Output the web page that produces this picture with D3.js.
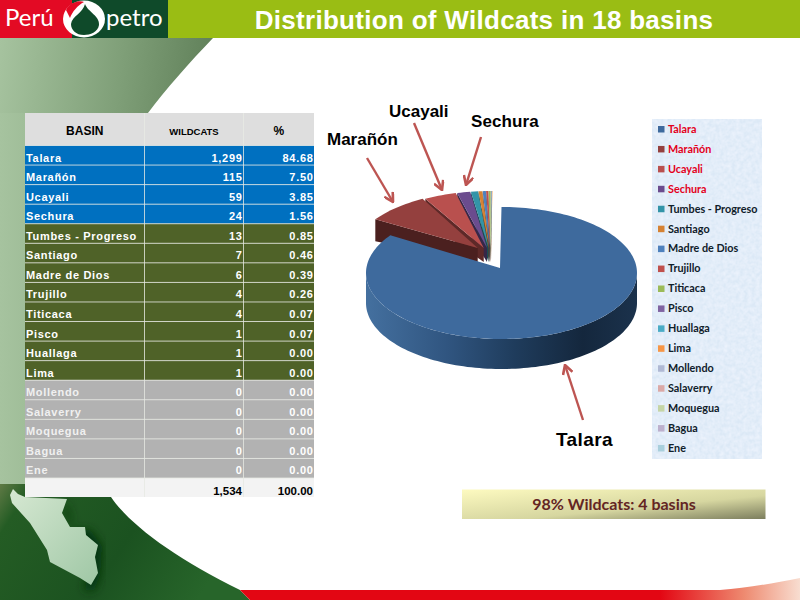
<!DOCTYPE html>
<html>
<head>
<meta charset="utf-8">
<script src="https://cdn.jsdelivr.net/npm/d3@7"></script>
<style>
  html, body { margin: 0; padding: 0; background: #fff; }
  svg { display: block; }
  text { font-family: "Liberation Sans", Arial, sans-serif; }
  .cell { font-size: 11px; font-weight: bold; letter-spacing: 0.68px; }
  .legend text { font-family: Lato, sans-serif; font-size: 10.8px; font-weight: 700; }
  .callout-label { font-weight: bold; fill: #000; }
</style>
</head>
<body>
<svg id="chart" width="800" height="600"></svg>
<script>
// Data
const basins = ["Talara", "Marañón", "Ucayali", "Sechura", "Tumbes - Progreso", "Santiago", "Madre de Dios",
    "Trujillo", "Titicaca", "Pisco", "Huallaga", "Lima", "Mollendo", "Salaverry", "Moquegua", "Bagua", "Ene"];
const wildcats = [1299, 115, 59, 24, 13, 7, 6, 4, 4, 1, 1, 1, 0, 0, 0, 0, 0];
const percents = [84.68, 7.50, 3.85, 1.56, 0.85, 0.46, 0.39, 0.26, 0.07, 0.07, 0, 0, 0, 0, 0, 0, 0];
const totals = [1534, 100];
const headers = ["BASIN", "WILDCATS", "%"];
const sliceColors = ["#3e6a9d", "#94403e", "#b9504e", "#6b4c8e", "#3394a8", "#d68233", "#4f81bd", "#c0504d",
    "#9bbb59", "#8064a2", "#4bacc6", "#f79646", "#b0b9d4", "#dba9a7", "#c5d5a6", "#bdb0cd", "#a9cfdc"];
const legendRed = ["Talara", "Marañón", "Ucayali", "Sechura"];
const title = "Distribution of Wildcats in 18 basins";
const callout = "98% Wildcats: 4 basins";
const callouts = [
    { label: "Marañón", x: 327, y: 145, size: 17, spacing: 0, from: [367, 158], to: [393, 202] },
    { label: "Ucayali", x: 389, y: 117, size: 17, spacing: 0, from: [414, 123], to: [442, 190] },
    { label: "Sechura", x: 471, y: 127, size: 17, spacing: 0.1, from: [481, 137], to: [466, 185] },
    { label: "Talara", x: 556, y: 446, size: 19, spacing: 0.4, from: [583, 420], to: [565, 365] }
];

const svg = d3.select("#chart");
const defs = svg.append("defs");

function linearGradient(id, x1, y1, x2, y2, stops) {
    const g = defs.append("linearGradient").attr("id", id)
        .attr("x1", x1).attr("y1", y1).attr("x2", x2).attr("y2", y2);
    stops.forEach(s => g.append("stop").attr("offset", s[0]).attr("stop-color", s[1]));
}
linearGradient("upperBg", 0, 0, 1, 0.25, [[0, "#a6c39f"], [0.55, "#7f9f78"], [1, "#5d7d56"]]);
linearGradient("stripBg", 0, 0, 1, 0, [[0, "#a6c39f"], [1, "#a0be99"]]);
linearGradient("lowerBg", 0, 0, 1, 0.3, [[0, "#5f7a45"], [0.12, "#245c24"], [0.6, "#1b5220"], [1, "#27652a"]]);
linearGradient("mapFill", 0, 0, 1, 1, [[0, "#d6e8d2"], [1, "#9fc7a5"]]);
linearGradient("redBar", 0, 0, 1, 0, [[0, "#e30613"], [0.75, "#e30613"], [0.9, "#ee8a70"], [1, "#f8ddd0"]]);
linearGradient("wallBlue", 0, 0, 1, 0, [[0, "#44709f"], [0.3, "#305580"], [0.55, "#1f3c5c"], [0.8, "#14273d"], [1, "#1b324c"]]);
linearGradient("calloutFill", 0, 0, 1, 1, [[0, "#fdfac0"], [0.6, "#d6d6a0"], [1, "#7c7e5e"]]);

const paper = defs.append("filter").attr("id", "paper")
    .attr("x", 0).attr("y", 0).attr("width", 1).attr("height", 1);
paper.append("feTurbulence").attr("type", "fractalNoise").attr("baseFrequency", 0.25)
    .attr("numOctaves", 3).attr("seed", 4).attr("result", "n");
paper.append("feColorMatrix").attr("in", "n").attr("type", "matrix")
    .attr("values", "0 0 0 0 0.83  0 0 0 0 0.89  0 0 0 0 0.97  1.6 0 0 0 -0.35").attr("result", "m");
paper.append("feComposite").attr("in", "m").attr("in2", "SourceGraphic").attr("operator", "over");
defs.append("filter").attr("id", "soft").append("feGaussianBlur").attr("stdDeviation", 5);

// Slide background
const bg = svg.append("g");
bg.append("path").attr("d", "M0,38 L213,38 C190,62 165,90 148,113 L110,113 L25,113 L25,484 L0,484 Z")
    .attr("fill", "url(#upperBg)");
bg.append("rect").attr("x", 0).attr("y", 113).attr("width", 25).attr("height", 371).attr("fill", "url(#stripBg)");
bg.append("path").attr("d", "M0,484 L25,484 L25,497 L111,497 C130,525 175,558 240,590 L250,600 L0,600 Z")
    .attr("fill", "url(#lowerBg)");
bg.append("path").attr("d", "M66,500 L65,514 L74,530 L90,530 L102,546 L100,575 L94,590 L84,590 L92,560 L75,535 Z")
    .attr("fill", "#06300e").attr("filter", "url(#soft)");
bg.append("path").attr("fill", "url(#mapFill)")
    .attr("d", "M13,489 L18,494 L25,497 L67,499 L62,513 L70,527 L85,527 L86,535 L98,545 L95,557 L98,573 L91,585 L80,578 L50,562 L47,550 L30,523 L12,503 L10,495 Z");
bg.append("path").attr("d", "M240,590 L800,590 L800,578 C770,584 745,588 720,590 L800,590 L800,600 L250,600 Z")
    .attr("fill", "url(#redBar)");

// Header with logo and title
svg.append("rect").attr("width", 800).attr("height", 38).attr("fill", "#9abd14");
svg.append("rect").attr("width", 72).attr("height", 38).attr("fill", "#e30a24");
svg.append("rect").attr("x", 72).attr("width", 96).attr("height", 38).attr("fill", "#0f4a2a");
svg.append("text").attr("x", 5).attr("y", 26).attr("fill", "#fff")
    .style("font-family", "Lato, sans-serif").style("font-size", "24px").text("Perú");
svg.append("text").attr("x", 106).attr("y", 26).attr("fill", "#fff")
    .style("font-family", "Lato, sans-serif").style("font-size", "24px").text("petro");
svg.append("ellipse").attr("cx", 84).attr("cy", 19).attr("rx", 21).attr("ry", 18.5).attr("fill", "#fff");
svg.append("path").attr("d", "M66,10 C70,2 80,0 84,2 C78,5 72,12 70,18 Z").attr("fill", "#e30a24");
svg.append("path").attr("d", "M85,4 C88,12 100,16 99,25 C98,32 90,35 84,35 C76,35 71,30 71,24 C72,16 83,13 85,4 Z")
    .attr("fill", "#0f4a2a");
svg.append("text").attr("x", 484).attr("y", 28.5).attr("text-anchor", "middle").attr("fill", "#fff")
    .style("font-size", "26px").style("font-weight", "bold").style("letter-spacing", "0.3px").text(title);

// Table
const colEdges = [25, 144.5, 243.5, 314];
const rowY = d3.scaleBand().domain(basins).range([145.5, 478]);
const rowColor = i => i < 4 ? "#0070c0" : i < 12 ? "#4f6228" : "#b2b2b2";
const gridColor = "#e6e9e2";
const table = svg.append("g");

headers.forEach((h, i) => {
    table.append("rect").attr("x", colEdges[i]).attr("y", 113)
        .attr("width", colEdges[i + 1] - colEdges[i]).attr("height", 32.5).attr("fill", "#dedede");
    table.append("text").attr("x", (colEdges[i] + colEdges[i + 1]) / 2).attr("y", 135)
        .attr("text-anchor", "middle").attr("fill", "#000")
        .style("font-weight", "bold").style("font-size", i === 1 ? "9.5px" : "12px").text(h);
});
table.selectAll(".row").data(basins).enter().append("rect")
    .attr("class", "row").attr("x", colEdges[0]).attr("y", d => rowY(d))
    .attr("width", colEdges[3] - colEdges[0]).attr("height", rowY.bandwidth())
    .attr("fill", (d, i) => rowColor(i));
table.append("rect").attr("x", colEdges[0]).attr("y", 478).attr("width", colEdges[3] - colEdges[0])
    .attr("height", 19).attr("fill", "#f3f3f3");

const rowText = (d, i) => i < 12 ? "#fff" : "#f0f0f0";
table.selectAll(".basin").data(basins).enter().append("text")
    .attr("class", "basin cell").attr("x", 26).attr("y", d => rowY(d) + 16)
    .attr("fill", rowText).text(d => d);
const fmtCount = d3.format(",");
const fmtPct = d3.format(".2f");
table.selectAll(".count").data(wildcats).enter().append("text")
    .attr("class", "count cell").attr("x", 242.5).attr("y", (d, i) => rowY(basins[i]) + 16)
    .attr("text-anchor", "end").attr("fill", "#fff").text(fmtCount);
table.selectAll(".pct").data(percents).enter().append("text")
    .attr("class", "pct cell").attr("x", 313.5).attr("y", (d, i) => rowY(basins[i]) + 16)
    .attr("text-anchor", "end").attr("fill", "#fff").text(fmtPct);
table.append("text").attr("x", 242).attr("y", 495).attr("text-anchor", "end")
    .style("font-size", "11.5px").style("font-weight", "bold").text(fmtCount(totals[0]));
table.append("text").attr("x", 313).attr("y", 495).attr("text-anchor", "end")
    .style("font-size", "11.5px").style("font-weight", "bold").text(fmtPct(totals[1]));

// Grid lines over the rows
basins.slice(1).concat(["end"]).forEach((d, i) => {
    const y = i === basins.length - 1 ? 478 : rowY(d);
    table.append("line").attr("x1", colEdges[0]).attr("x2", colEdges[3]).attr("y1", y).attr("y2", y)
        .attr("stroke", gridColor).attr("stroke-width", 0.8);
});
table.append("line").attr("x1", colEdges[0]).attr("x2", colEdges[3]).attr("y1", 145.5).attr("y2", 145.5)
    .attr("stroke", gridColor).attr("stroke-width", 0.8);
colEdges.slice(1, 3).forEach(x => {
    table.append("line").attr("x1", x).attr("x2", x).attr("y1", 113).attr("y2", 497)
        .attr("stroke", gridColor).attr("stroke-width", 0.8);
});

// Pie, tilted: angles come from d3.pie, projected on an ellipse
const pieCx = 501.5, pieCy = 273, pieRx = 135.5, pieRy = 66;
const apex = [500, 268];
const depth = 30, explodedDepth = 22;
const slices = d3.pie().sort(null).value((d, i) => wildcats[i]).startAngle(0).endAngle(2 * Math.PI)(basins)
    .filter(d => d.value > 0);
const onRim = a => [pieCx + pieRx * Math.sin(a), pieCy - pieRy * Math.cos(a)];
const line = d3.line();
function rimPoints(a0, a1) {
    const n = Math.max(2, Math.ceil((a1 - a0) / 0.03));
    return d3.range(n + 1).map(k => onRim(a0 + (a1 - a0) * k / n));
}
const pieG = svg.append("g");

// Exploded slices, back to front so Marañón ends up on top
slices.slice(1).reverse().forEach(d => {
    const mid = (d.startAngle + d.endAngle) / 2;
    const shift = [-9 + 9 * Math.sin(mid), -16];
    const rim = rimPoints(d.startAngle, d.endAngle).map(p => [p[0] + shift[0], p[1] + shift[1]]);
    const tip = [apex[0] - 9 + 20 * Math.sin(mid), apex[1] - 20];
    const color = d3.color(sliceColors[d.index]);
    pieG.append("path")
        .attr("d", line([rim[0], tip, [tip[0], tip[1] + 14], [rim[0][0], rim[0][1] + explodedDepth]]) + "Z")
        .attr("fill", color.darker(1.9));
    pieG.append("path").attr("d", line([tip].concat(rim)) + "Z").attr("fill", color);
});

const talara = slices[0];
const frontTop = rimPoints(Math.PI / 2, 3 * Math.PI / 2);
const frontBottom = frontTop.map(p => [p[0], p[1] + depth]).reverse();
pieG.append("path").attr("d", line(frontTop.concat(frontBottom)) + "Z").attr("fill", "url(#wallBlue)");
pieG.append("path").attr("d", line([apex].concat(rimPoints(talara.startAngle, talara.endAngle))) + "Z")
    .attr("fill", sliceColors[0]);

// Callout labels and arrows
defs.append("marker").attr("id", "head").attr("viewBox", "0 0 10 10").attr("refX", 9).attr("refY", 5)
    .attr("markerWidth", 4.6).attr("markerHeight", 4.6).attr("orient", "auto")
    .append("path").attr("d", "M1,0.5 L9,5 L1,9.5").attr("fill", "none").attr("stroke", "#bd5552").attr("stroke-width", 2.4);
callouts.forEach(c => {
    svg.append("line").attr("x1", c.from[0]).attr("y1", c.from[1]).attr("x2", c.to[0]).attr("y2", c.to[1])
        .attr("stroke", "#bd5552").attr("stroke-width", 2.4).attr("marker-end", "url(#head)");
    svg.append("text").attr("class", "callout-label").attr("x", c.x).attr("y", c.y)
        .style("font-size", c.size + "px").style("letter-spacing", c.spacing + "px").text(c.label);
});

// Legend
const legendY = d3.scalePoint().domain(basins).range([129, 448]);
const legend = svg.append("g").attr("class", "legend");
legend.append("rect").attr("x", 652).attr("y", 119).attr("width", 110).attr("height", 340)
    .attr("fill", "#dbe8f6").attr("filter", "url(#paper)");
const legendRows = legend.selectAll(".item").data(basins).enter().append("g").attr("class", "item")
    .attr("transform", d => `translate(658,${legendY(d)})`);
legendRows.append("rect").attr("y", -3).attr("width", 6.5).attr("height", 6.5)
    .attr("fill", (d, i) => sliceColors[i]);
legendRows.append("text").attr("x", 10).attr("y", 3.8)
    .attr("fill", d => legendRed.includes(d) ? "#e3001b" : "#10202a").text(d => d);

// Bottom note
svg.append("rect").attr("x", 462).attr("y", 489.5).attr("width", 303.5).attr("height", 29.5)
    .attr("fill", "url(#calloutFill)");
svg.append("text").attr("x", 614).attr("y", 510).attr("text-anchor", "middle").attr("fill", "#632523")
    .style("font-family", "Lato, sans-serif").style("font-size", "16px").style("font-weight", "bold").text(callout);
</script>
</body>
</html>
